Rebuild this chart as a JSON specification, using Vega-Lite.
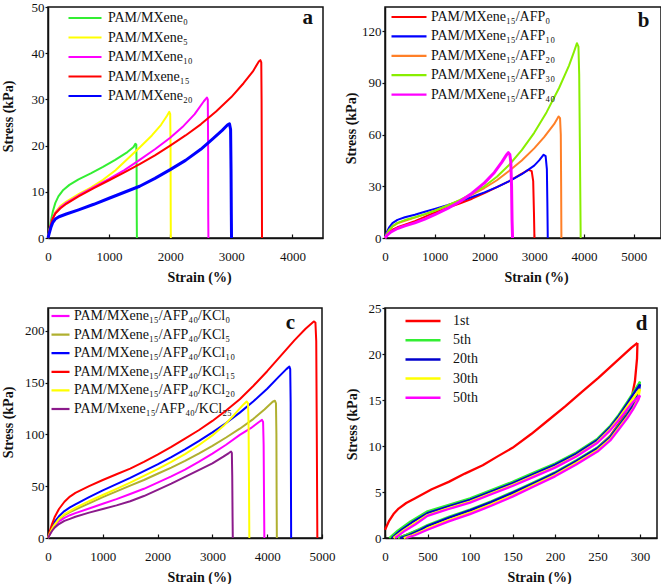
{
"$schema": "https://vega.github.io/schema/vega-lite/v6.json",
"background": "white",
"padding": {"left": 0, "top": 0, "right": 0, "bottom": 0},
"columns": 2,
"spacing": {"row": 70, "column": 62},
"bounds": "flush",
"resolve": {"scale": {"color": "independent", "x": "independent", "y": "independent"}, "legend": {"color": "independent"}},
"config": {
  "font": "Liberation Serif",
  "view": {"stroke": "#111111", "strokeWidth": 1.5},
  "axis": {"labelFont": "Liberation Serif", "labelFontSize": 13, "labelColor": "#111111", "titleFont": "Liberation Serif", "titleFontSize": 14, "titleFontWeight": "bold", "titleColor": "#111111", "grid": false, "domainColor": "#111111", "domainWidth": 1.5, "tickColor": "#111111", "tickWidth": 1.2, "labelFlush": false, "labelOverlap": false, "format": "d"},
  "axisX": {"tickSize": -4, "labelPadding": 16, "labelAngle": 0, "titleBaseline": "middle", "titleY": 39},
  "axisY": {"tickSize": 3, "labelPadding": 1, "titleBaseline": "middle", "titleAngle": -90},
  "legend": {"symbolType": "stroke", "labelFont": "Liberation Serif", "labelFontSize": 14, "labelColor": "#111111", "labelLimit": 400, "padding": 0, "symbolOffset": 0, "orient": "none"}
},
"datasets": {
"a": [
{"s":"PAM/MXene₀","x":0,"y":0},{"s":"PAM/MXene₀","x":20,"y":1.5},{"s":"PAM/MXene₀","x":50,"y":3.8},{"s":"PAM/MXene₀","x":80,"y":5.8},{"s":"PAM/MXene₀","x":120,"y":7.6},{"s":"PAM/MXene₀","x":170,"y":9},{"s":"PAM/MXene₀","x":250,"y":10.4},{"s":"PAM/MXene₀","x":350,"y":11.5},{"s":"PAM/MXene₀","x":500,"y":12.7},{"s":"PAM/MXene₀","x":700,"y":14},{"s":"PAM/MXene₀","x":900,"y":15.4},{"s":"PAM/MXene₀","x":1100,"y":16.9},{"s":"PAM/MXene₀","x":1300,"y":18.6},{"s":"PAM/MXene₀","x":1400,"y":19.7},{"s":"PAM/MXene₀","x":1430,"y":20.4},{"s":"PAM/MXene₀","x":1445,"y":20.2},{"s":"PAM/MXene₀","x":1450,"y":15},{"s":"PAM/MXene₀","x":1452,"y":5},{"s":"PAM/MXene₀","x":1455,"y":0},
{"s":"PAM/MXene₅","x":0,"y":0},{"s":"PAM/MXene₅","x":30,"y":2},{"s":"PAM/MXene₅","x":70,"y":4},{"s":"PAM/MXene₅","x":120,"y":5.6},{"s":"PAM/MXene₅","x":200,"y":6.9},{"s":"PAM/MXene₅","x":300,"y":7.9},{"s":"PAM/MXene₅","x":500,"y":9.5},{"s":"PAM/MXene₅","x":700,"y":10.9},{"s":"PAM/MXene₅","x":900,"y":12.6},{"s":"PAM/MXene₅","x":1100,"y":14.6},{"s":"PAM/MXene₅","x":1300,"y":17.1},{"s":"PAM/MXene₅","x":1500,"y":19.6},{"s":"PAM/MXene₅","x":1700,"y":22.2},{"s":"PAM/MXene₅","x":1850,"y":24.5},{"s":"PAM/MXene₅","x":1950,"y":26.5},{"s":"PAM/MXene₅","x":1985,"y":27.3},{"s":"PAM/MXene₅","x":2000,"y":26.8},{"s":"PAM/MXene₅","x":2005,"y":20},{"s":"PAM/MXene₅","x":2008,"y":5},{"s":"PAM/MXene₅","x":2010,"y":0},
{"s":"PAM/MXene₁₀","x":0,"y":0},{"s":"PAM/MXene₁₀","x":30,"y":2},{"s":"PAM/MXene₁₀","x":70,"y":4},{"s":"PAM/MXene₁₀","x":120,"y":5.4},{"s":"PAM/MXene₁₀","x":200,"y":6.6},{"s":"PAM/MXene₁₀","x":300,"y":7.6},{"s":"PAM/MXene₁₀","x":500,"y":9.2},{"s":"PAM/MXene₁₀","x":750,"y":11},{"s":"PAM/MXene₁₀","x":1000,"y":12.8},{"s":"PAM/MXene₁₀","x":1250,"y":14.7},{"s":"PAM/MXene₁₀","x":1500,"y":16.9},{"s":"PAM/MXene₁₀","x":1750,"y":19.2},{"s":"PAM/MXene₁₀","x":2000,"y":21.7},{"s":"PAM/MXene₁₀","x":2200,"y":24},{"s":"PAM/MXene₁₀","x":2400,"y":26.8},{"s":"PAM/MXene₁₀","x":2550,"y":29.6},{"s":"PAM/MXene₁₀","x":2600,"y":30.4},{"s":"PAM/MXene₁₀","x":2615,"y":30},{"s":"PAM/MXene₁₀","x":2620,"y":20},{"s":"PAM/MXene₁₀","x":2622,"y":5},{"s":"PAM/MXene₁₀","x":2625,"y":0},
{"s":"PAM/Mxene₁₅","x":0,"y":0},{"s":"PAM/Mxene₁₅","x":30,"y":2},{"s":"PAM/Mxene₁₅","x":70,"y":4},{"s":"PAM/Mxene₁₅","x":120,"y":5.3},{"s":"PAM/Mxene₁₅","x":200,"y":6.4},{"s":"PAM/Mxene₁₅","x":300,"y":7.4},{"s":"PAM/Mxene₁₅","x":500,"y":9},{"s":"PAM/Mxene₁₅","x":750,"y":10.8},{"s":"PAM/Mxene₁₅","x":1000,"y":12.5},{"s":"PAM/Mxene₁₅","x":1250,"y":14.2},{"s":"PAM/Mxene₁₅","x":1500,"y":16},{"s":"PAM/Mxene₁₅","x":1750,"y":17.9},{"s":"PAM/Mxene₁₅","x":2000,"y":20},{"s":"PAM/Mxene₁₅","x":2250,"y":22.2},{"s":"PAM/Mxene₁₅","x":2500,"y":24.6},{"s":"PAM/Mxene₁₅","x":2750,"y":27.4},{"s":"PAM/Mxene₁₅","x":3000,"y":30.5},{"s":"PAM/Mxene₁₅","x":3200,"y":33.5},{"s":"PAM/Mxene₁₅","x":3350,"y":36},{"s":"PAM/Mxene₁₅","x":3450,"y":38.2},{"s":"PAM/Mxene₁₅","x":3475,"y":38.5},{"s":"PAM/Mxene₁₅","x":3490,"y":38},{"s":"PAM/Mxene₁₅","x":3495,"y":30},{"s":"PAM/Mxene₁₅","x":3500,"y":10},{"s":"PAM/Mxene₁₅","x":3502,"y":0},
{"s":"PAM/MXene₂₀","x":0,"y":0},{"s":"PAM/MXene₂₀","x":20,"y":1},{"s":"PAM/MXene₂₀","x":50,"y":2.4},{"s":"PAM/MXene₂₀","x":80,"y":3.4},{"s":"PAM/MXene₂₀","x":120,"y":4.1},{"s":"PAM/MXene₂₀","x":180,"y":4.6},{"s":"PAM/MXene₂₀","x":300,"y":5.2},{"s":"PAM/MXene₂₀","x":500,"y":6.1},{"s":"PAM/MXene₂₀","x":750,"y":7.3},{"s":"PAM/MXene₂₀","x":1000,"y":8.6},{"s":"PAM/MXene₂₀","x":1250,"y":9.9},{"s":"PAM/MXene₂₀","x":1500,"y":11.2},{"s":"PAM/MXene₂₀","x":1750,"y":12.9},{"s":"PAM/MXene₂₀","x":2000,"y":14.8},{"s":"PAM/MXene₂₀","x":2250,"y":16.8},{"s":"PAM/MXene₂₀","x":2500,"y":19.2},{"s":"PAM/MXene₂₀","x":2700,"y":21.5},{"s":"PAM/MXene₂₀","x":2850,"y":23.3},{"s":"PAM/MXene₂₀","x":2940,"y":24.5},{"s":"PAM/MXene₂₀","x":2970,"y":24.7},{"s":"PAM/MXene₂₀","x":2988,"y":23.5},{"s":"PAM/MXene₂₀","x":2995,"y":15},{"s":"PAM/MXene₂₀","x":3000,"y":5},{"s":"PAM/MXene₂₀","x":3003,"y":0}
],
"b": [
{"s":"PAM/MXene₁₅/AFP₀","x":0,"y":0},{"s":"PAM/MXene₁₅/AFP₀","x":30,"y":1.5},{"s":"PAM/MXene₁₅/AFP₀","x":80,"y":3.2},{"s":"PAM/MXene₁₅/AFP₀","x":150,"y":4.8},{"s":"PAM/MXene₁₅/AFP₀","x":250,"y":6.2},{"s":"PAM/MXene₁₅/AFP₀","x":400,"y":7.7},{"s":"PAM/MXene₁₅/AFP₀","x":600,"y":9.8},{"s":"PAM/MXene₁₅/AFP₀","x":800,"y":12.3},{"s":"PAM/MXene₁₅/AFP₀","x":1000,"y":14.8},{"s":"PAM/MXene₁₅/AFP₀","x":1250,"y":17.5},{"s":"PAM/MXene₁₅/AFP₀","x":1500,"y":20},{"s":"PAM/MXene₁₅/AFP₀","x":1750,"y":22.8},{"s":"PAM/MXene₁₅/AFP₀","x":2000,"y":26},{"s":"PAM/MXene₁₅/AFP₀","x":2250,"y":29.5},{"s":"PAM/MXene₁₅/AFP₀","x":2500,"y":33},{"s":"PAM/MXene₁₅/AFP₀","x":2700,"y":36.5},{"s":"PAM/MXene₁₅/AFP₀","x":2850,"y":39},{"s":"PAM/MXene₁₅/AFP₀","x":2890,"y":39.5},{"s":"PAM/MXene₁₅/AFP₀","x":2950,"y":38.8},{"s":"PAM/MXene₁₅/AFP₀","x":2980,"y":33},{"s":"PAM/MXene₁₅/AFP₀","x":2995,"y":15},{"s":"PAM/MXene₁₅/AFP₀","x":3005,"y":0},
{"s":"PAM/MXene₁₅/AFP₁₀","x":0,"y":0},{"s":"PAM/MXene₁₅/AFP₁₀","x":30,"y":3},{"s":"PAM/MXene₁₅/AFP₁₀","x":80,"y":6},{"s":"PAM/MXene₁₅/AFP₁₀","x":150,"y":8.6},{"s":"PAM/MXene₁₅/AFP₁₀","x":250,"y":10.5},{"s":"PAM/MXene₁₅/AFP₁₀","x":400,"y":12},{"s":"PAM/MXene₁₅/AFP₁₀","x":600,"y":13.5},{"s":"PAM/MXene₁₅/AFP₁₀","x":800,"y":15.2},{"s":"PAM/MXene₁₅/AFP₁₀","x":1000,"y":16.9},{"s":"PAM/MXene₁₅/AFP₁₀","x":1250,"y":19},{"s":"PAM/MXene₁₅/AFP₁₀","x":1500,"y":21.3},{"s":"PAM/MXene₁₅/AFP₁₀","x":1750,"y":23.8},{"s":"PAM/MXene₁₅/AFP₁₀","x":2000,"y":26.5},{"s":"PAM/MXene₁₅/AFP₁₀","x":2250,"y":29.5},{"s":"PAM/MXene₁₅/AFP₁₀","x":2500,"y":33},{"s":"PAM/MXene₁₅/AFP₁₀","x":2750,"y":37},{"s":"PAM/MXene₁₅/AFP₁₀","x":3000,"y":42},{"s":"PAM/MXene₁₅/AFP₁₀","x":3100,"y":45},{"s":"PAM/MXene₁₅/AFP₁₀","x":3190,"y":48.3},{"s":"PAM/MXene₁₅/AFP₁₀","x":3230,"y":47.5},{"s":"PAM/MXene₁₅/AFP₁₀","x":3255,"y":40},{"s":"PAM/MXene₁₅/AFP₁₀","x":3265,"y":20},{"s":"PAM/MXene₁₅/AFP₁₀","x":3273,"y":0},
{"s":"PAM/MXene₁₅/AFP₂₀","x":0,"y":0},{"s":"PAM/MXene₁₅/AFP₂₀","x":30,"y":2},{"s":"PAM/MXene₁₅/AFP₂₀","x":80,"y":4.5},{"s":"PAM/MXene₁₅/AFP₂₀","x":150,"y":6.7},{"s":"PAM/MXene₁₅/AFP₂₀","x":250,"y":8.5},{"s":"PAM/MXene₁₅/AFP₂₀","x":400,"y":10},{"s":"PAM/MXene₁₅/AFP₂₀","x":600,"y":11.8},{"s":"PAM/MXene₁₅/AFP₂₀","x":800,"y":13.7},{"s":"PAM/MXene₁₅/AFP₂₀","x":1000,"y":15.8},{"s":"PAM/MXene₁₅/AFP₂₀","x":1250,"y":18.7},{"s":"PAM/MXene₁₅/AFP₂₀","x":1500,"y":21.8},{"s":"PAM/MXene₁₅/AFP₂₀","x":1750,"y":25.2},{"s":"PAM/MXene₁₅/AFP₂₀","x":2000,"y":29},{"s":"PAM/MXene₁₅/AFP₂₀","x":2250,"y":33.5},{"s":"PAM/MXene₁₅/AFP₂₀","x":2500,"y":39},{"s":"PAM/MXene₁₅/AFP₂₀","x":2750,"y":45},{"s":"PAM/MXene₁₅/AFP₂₀","x":3000,"y":52},{"s":"PAM/MXene₁₅/AFP₂₀","x":3200,"y":58.5},{"s":"PAM/MXene₁₅/AFP₂₀","x":3400,"y":66},{"s":"PAM/MXene₁₅/AFP₂₀","x":3490,"y":70.5},{"s":"PAM/MXene₁₅/AFP₂₀","x":3520,"y":69.5},{"s":"PAM/MXene₁₅/AFP₂₀","x":3535,"y":60},{"s":"PAM/MXene₁₅/AFP₂₀","x":3542,"y":30},{"s":"PAM/MXene₁₅/AFP₂₀","x":3547,"y":0},
{"s":"PAM/MXene₁₅/AFP₃₀","x":0,"y":0},{"s":"PAM/MXene₁₅/AFP₃₀","x":30,"y":2},{"s":"PAM/MXene₁₅/AFP₃₀","x":80,"y":4.5},{"s":"PAM/MXene₁₅/AFP₃₀","x":150,"y":6.8},{"s":"PAM/MXene₁₅/AFP₃₀","x":250,"y":8.8},{"s":"PAM/MXene₁₅/AFP₃₀","x":400,"y":10.4},{"s":"PAM/MXene₁₅/AFP₃₀","x":600,"y":12},{"s":"PAM/MXene₁₅/AFP₃₀","x":800,"y":13.8},{"s":"PAM/MXene₁₅/AFP₃₀","x":1000,"y":15.8},{"s":"PAM/MXene₁₅/AFP₃₀","x":1250,"y":18.7},{"s":"PAM/MXene₁₅/AFP₃₀","x":1500,"y":22},{"s":"PAM/MXene₁₅/AFP₃₀","x":1750,"y":25.7},{"s":"PAM/MXene₁₅/AFP₃₀","x":2000,"y":30},{"s":"PAM/MXene₁₅/AFP₃₀","x":2250,"y":35.5},{"s":"PAM/MXene₁₅/AFP₃₀","x":2500,"y":42.5},{"s":"PAM/MXene₁₅/AFP₃₀","x":2750,"y":51},{"s":"PAM/MXene₁₅/AFP₃₀","x":3000,"y":61},{"s":"PAM/MXene₁₅/AFP₃₀","x":3250,"y":73},{"s":"PAM/MXene₁₅/AFP₃₀","x":3500,"y":87},{"s":"PAM/MXene₁₅/AFP₃₀","x":3700,"y":100},{"s":"PAM/MXene₁₅/AFP₃₀","x":3800,"y":108},{"s":"PAM/MXene₁₅/AFP₃₀","x":3860,"y":113},{"s":"PAM/MXene₁₅/AFP₃₀","x":3890,"y":111},{"s":"PAM/MXene₁₅/AFP₃₀","x":3905,"y":95},{"s":"PAM/MXene₁₅/AFP₃₀","x":3920,"y":50},{"s":"PAM/MXene₁₅/AFP₃₀","x":3935,"y":0},
{"s":"PAM/MXene₁₅/AFP₄₀","x":0,"y":0},{"s":"PAM/MXene₁₅/AFP₄₀","x":50,"y":1.8},{"s":"PAM/MXene₁₅/AFP₄₀","x":120,"y":3.5},{"s":"PAM/MXene₁₅/AFP₄₀","x":250,"y":5.5},{"s":"PAM/MXene₁₅/AFP₄₀","x":400,"y":7},{"s":"PAM/MXene₁₅/AFP₄₀","x":600,"y":8.8},{"s":"PAM/MXene₁₅/AFP₄₀","x":800,"y":11},{"s":"PAM/MXene₁₅/AFP₄₀","x":1000,"y":13.5},{"s":"PAM/MXene₁₅/AFP₄₀","x":1250,"y":17},{"s":"PAM/MXene₁₅/AFP₄₀","x":1500,"y":21},{"s":"PAM/MXene₁₅/AFP₄₀","x":1750,"y":26},{"s":"PAM/MXene₁₅/AFP₄₀","x":2000,"y":32},{"s":"PAM/MXene₁₅/AFP₄₀","x":2200,"y":38},{"s":"PAM/MXene₁₅/AFP₄₀","x":2350,"y":44},{"s":"PAM/MXene₁₅/AFP₄₀","x":2450,"y":48.5},{"s":"PAM/MXene₁₅/AFP₄₀","x":2480,"y":49.5},{"s":"PAM/MXene₁₅/AFP₄₀","x":2510,"y":48.5},{"s":"PAM/MXene₁₅/AFP₄₀","x":2530,"y":44},{"s":"PAM/MXene₁₅/AFP₄₀","x":2545,"y":30},{"s":"PAM/MXene₁₅/AFP₄₀","x":2555,"y":10},{"s":"PAM/MXene₁₅/AFP₄₀","x":2565,"y":0}
],
"c": [
{"s":"PAM/MXene₁₅/AFP₄₀/KCl₀","x":0,"y":0},{"s":"PAM/MXene₁₅/AFP₄₀/KCl₀","x":30,"y":3.5},{"s":"PAM/MXene₁₅/AFP₄₀/KCl₀","x":70,"y":7.5},{"s":"PAM/MXene₁₅/AFP₄₀/KCl₀","x":120,"y":11.5},{"s":"PAM/MXene₁₅/AFP₄₀/KCl₀","x":200,"y":16},{"s":"PAM/MXene₁₅/AFP₄₀/KCl₀","x":300,"y":19.5},{"s":"PAM/MXene₁₅/AFP₄₀/KCl₀","x":400,"y":22},{"s":"PAM/MXene₁₅/AFP₄₀/KCl₀","x":500,"y":24},{"s":"PAM/MXene₁₅/AFP₄₀/KCl₀","x":750,"y":28.5},{"s":"PAM/MXene₁₅/AFP₄₀/KCl₀","x":1000,"y":33},{"s":"PAM/MXene₁₅/AFP₄₀/KCl₀","x":1250,"y":37.5},{"s":"PAM/MXene₁₅/AFP₄₀/KCl₀","x":1500,"y":42.5},{"s":"PAM/MXene₁₅/AFP₄₀/KCl₀","x":1750,"y":47.5},{"s":"PAM/MXene₁₅/AFP₄₀/KCl₀","x":2000,"y":53.5},{"s":"PAM/MXene₁₅/AFP₄₀/KCl₀","x":2250,"y":59.5},{"s":"PAM/MXene₁₅/AFP₄₀/KCl₀","x":2500,"y":66},{"s":"PAM/MXene₁₅/AFP₄₀/KCl₀","x":2750,"y":73.5},{"s":"PAM/MXene₁₅/AFP₄₀/KCl₀","x":3000,"y":81.5},{"s":"PAM/MXene₁₅/AFP₄₀/KCl₀","x":3250,"y":90},{"s":"PAM/MXene₁₅/AFP₄₀/KCl₀","x":3500,"y":99.5},{"s":"PAM/MXene₁₅/AFP₄₀/KCl₀","x":3700,"y":106},{"s":"PAM/MXene₁₅/AFP₄₀/KCl₀","x":3850,"y":112},{"s":"PAM/MXene₁₅/AFP₄₀/KCl₀","x":3905,"y":114},{"s":"PAM/MXene₁₅/AFP₄₀/KCl₀","x":3925,"y":112},{"s":"PAM/MXene₁₅/AFP₄₀/KCl₀","x":3935,"y":90},{"s":"PAM/MXene₁₅/AFP₄₀/KCl₀","x":3942,"y":40},{"s":"PAM/MXene₁₅/AFP₄₀/KCl₀","x":3948,"y":0},
{"s":"PAM/MXene₁₅/AFP₄₀/KCl₅","x":0,"y":0},{"s":"PAM/MXene₁₅/AFP₄₀/KCl₅","x":30,"y":4},{"s":"PAM/MXene₁₅/AFP₄₀/KCl₅","x":70,"y":8.5},{"s":"PAM/MXene₁₅/AFP₄₀/KCl₅","x":120,"y":13},{"s":"PAM/MXene₁₅/AFP₄₀/KCl₅","x":200,"y":18},{"s":"PAM/MXene₁₅/AFP₄₀/KCl₅","x":300,"y":22},{"s":"PAM/MXene₁₅/AFP₄₀/KCl₅","x":400,"y":25},{"s":"PAM/MXene₁₅/AFP₄₀/KCl₅","x":500,"y":27.5},{"s":"PAM/MXene₁₅/AFP₄₀/KCl₅","x":750,"y":33.5},{"s":"PAM/MXene₁₅/AFP₄₀/KCl₅","x":1000,"y":39.5},{"s":"PAM/MXene₁₅/AFP₄₀/KCl₅","x":1250,"y":45},{"s":"PAM/MXene₁₅/AFP₄₀/KCl₅","x":1500,"y":50.5},{"s":"PAM/MXene₁₅/AFP₄₀/KCl₅","x":1750,"y":56},{"s":"PAM/MXene₁₅/AFP₄₀/KCl₅","x":2000,"y":62},{"s":"PAM/MXene₁₅/AFP₄₀/KCl₅","x":2250,"y":68},{"s":"PAM/MXene₁₅/AFP₄₀/KCl₅","x":2500,"y":74.5},{"s":"PAM/MXene₁₅/AFP₄₀/KCl₅","x":2750,"y":81.5},{"s":"PAM/MXene₁₅/AFP₄₀/KCl₅","x":3000,"y":89},{"s":"PAM/MXene₁₅/AFP₄₀/KCl₅","x":3250,"y":97},{"s":"PAM/MXene₁₅/AFP₄₀/KCl₅","x":3500,"y":105.5},{"s":"PAM/MXene₁₅/AFP₄₀/KCl₅","x":3750,"y":115},{"s":"PAM/MXene₁₅/AFP₄₀/KCl₅","x":3950,"y":124},{"s":"PAM/MXene₁₅/AFP₄₀/KCl₅","x":4100,"y":131.5},{"s":"PAM/MXene₁₅/AFP₄₀/KCl₅","x":4140,"y":132.5},{"s":"PAM/MXene₁₅/AFP₄₀/KCl₅","x":4160,"y":130},{"s":"PAM/MXene₁₅/AFP₄₀/KCl₅","x":4168,"y":100},{"s":"PAM/MXene₁₅/AFP₄₀/KCl₅","x":4172,"y":40},{"s":"PAM/MXene₁₅/AFP₄₀/KCl₅","x":4176,"y":0},
{"s":"PAM/MXene₁₅/AFP₄₀/KCl₁₀","x":0,"y":0},{"s":"PAM/MXene₁₅/AFP₄₀/KCl₁₀","x":30,"y":4.5},{"s":"PAM/MXene₁₅/AFP₄₀/KCl₁₀","x":70,"y":10},{"s":"PAM/MXene₁₅/AFP₄₀/KCl₁₀","x":120,"y":15.5},{"s":"PAM/MXene₁₅/AFP₄₀/KCl₁₀","x":200,"y":21},{"s":"PAM/MXene₁₅/AFP₄₀/KCl₁₀","x":300,"y":26},{"s":"PAM/MXene₁₅/AFP₄₀/KCl₁₀","x":400,"y":29.5},{"s":"PAM/MXene₁₅/AFP₄₀/KCl₁₀","x":500,"y":32.5},{"s":"PAM/MXene₁₅/AFP₄₀/KCl₁₀","x":750,"y":39.5},{"s":"PAM/MXene₁₅/AFP₄₀/KCl₁₀","x":1000,"y":46},{"s":"PAM/MXene₁₅/AFP₄₀/KCl₁₀","x":1250,"y":52},{"s":"PAM/MXene₁₅/AFP₄₀/KCl₁₀","x":1500,"y":58},{"s":"PAM/MXene₁₅/AFP₄₀/KCl₁₀","x":1750,"y":64.5},{"s":"PAM/MXene₁₅/AFP₄₀/KCl₁₀","x":2000,"y":71},{"s":"PAM/MXene₁₅/AFP₄₀/KCl₁₀","x":2250,"y":78},{"s":"PAM/MXene₁₅/AFP₄₀/KCl₁₀","x":2500,"y":85.5},{"s":"PAM/MXene₁₅/AFP₄₀/KCl₁₀","x":2750,"y":93.5},{"s":"PAM/MXene₁₅/AFP₄₀/KCl₁₀","x":3000,"y":102},{"s":"PAM/MXene₁₅/AFP₄₀/KCl₁₀","x":3250,"y":111},{"s":"PAM/MXene₁₅/AFP₄₀/KCl₁₀","x":3500,"y":121},{"s":"PAM/MXene₁₅/AFP₄₀/KCl₁₀","x":3750,"y":132},{"s":"PAM/MXene₁₅/AFP₄₀/KCl₁₀","x":4000,"y":144},{"s":"PAM/MXene₁₅/AFP₄₀/KCl₁₀","x":4200,"y":155},{"s":"PAM/MXene₁₅/AFP₄₀/KCl₁₀","x":4350,"y":163},{"s":"PAM/MXene₁₅/AFP₄₀/KCl₁₀","x":4405,"y":165.5},{"s":"PAM/MXene₁₅/AFP₄₀/KCl₁₀","x":4420,"y":163},{"s":"PAM/MXene₁₅/AFP₄₀/KCl₁₀","x":4428,"y":130},{"s":"PAM/MXene₁₅/AFP₄₀/KCl₁₀","x":4433,"y":60},{"s":"PAM/MXene₁₅/AFP₄₀/KCl₁₀","x":4437,"y":0},
{"s":"PAM/MXene₁₅/AFP₄₀/KCl₁₅","x":0,"y":0},{"s":"PAM/MXene₁₅/AFP₄₀/KCl₁₅","x":30,"y":6},{"s":"PAM/MXene₁₅/AFP₄₀/KCl₁₅","x":70,"y":13},{"s":"PAM/MXene₁₅/AFP₄₀/KCl₁₅","x":120,"y":20},{"s":"PAM/MXene₁₅/AFP₄₀/KCl₁₅","x":200,"y":28},{"s":"PAM/MXene₁₅/AFP₄₀/KCl₁₅","x":300,"y":35},{"s":"PAM/MXene₁₅/AFP₄₀/KCl₁₅","x":400,"y":40},{"s":"PAM/MXene₁₅/AFP₄₀/KCl₁₅","x":500,"y":43.5},{"s":"PAM/MXene₁₅/AFP₄₀/KCl₁₅","x":750,"y":50},{"s":"PAM/MXene₁₅/AFP₄₀/KCl₁₅","x":1000,"y":56},{"s":"PAM/MXene₁₅/AFP₄₀/KCl₁₅","x":1250,"y":61.5},{"s":"PAM/MXene₁₅/AFP₄₀/KCl₁₅","x":1500,"y":67},{"s":"PAM/MXene₁₅/AFP₄₀/KCl₁₅","x":1750,"y":73.5},{"s":"PAM/MXene₁₅/AFP₄₀/KCl₁₅","x":2000,"y":80.5},{"s":"PAM/MXene₁₅/AFP₄₀/KCl₁₅","x":2250,"y":88},{"s":"PAM/MXene₁₅/AFP₄₀/KCl₁₅","x":2500,"y":96},{"s":"PAM/MXene₁₅/AFP₄₀/KCl₁₅","x":2750,"y":104},{"s":"PAM/MXene₁₅/AFP₄₀/KCl₁₅","x":3000,"y":113},{"s":"PAM/MXene₁₅/AFP₄₀/KCl₁₅","x":3250,"y":123},{"s":"PAM/MXene₁₅/AFP₄₀/KCl₁₅","x":3500,"y":134},{"s":"PAM/MXene₁₅/AFP₄₀/KCl₁₅","x":3750,"y":147},{"s":"PAM/MXene₁₅/AFP₄₀/KCl₁₅","x":4000,"y":161},{"s":"PAM/MXene₁₅/AFP₄₀/KCl₁₅","x":4250,"y":176},{"s":"PAM/MXene₁₅/AFP₄₀/KCl₁₅","x":4500,"y":191},{"s":"PAM/MXene₁₅/AFP₄₀/KCl₁₅","x":4700,"y":202},{"s":"PAM/MXene₁₅/AFP₄₀/KCl₁₅","x":4850,"y":209},{"s":"PAM/MXene₁₅/AFP₄₀/KCl₁₅","x":4880,"y":208},{"s":"PAM/MXene₁₅/AFP₄₀/KCl₁₅","x":4895,"y":190},{"s":"PAM/MXene₁₅/AFP₄₀/KCl₁₅","x":4905,"y":100},{"s":"PAM/MXene₁₅/AFP₄₀/KCl₁₅","x":4915,"y":0},
{"s":"PAM/MXene₁₅/AFP₄₀/KCl₂₀","x":0,"y":0},{"s":"PAM/MXene₁₅/AFP₄₀/KCl₂₀","x":30,"y":4},{"s":"PAM/MXene₁₅/AFP₄₀/KCl₂₀","x":70,"y":8.5},{"s":"PAM/MXene₁₅/AFP₄₀/KCl₂₀","x":120,"y":13},{"s":"PAM/MXene₁₅/AFP₄₀/KCl₂₀","x":200,"y":18.5},{"s":"PAM/MXene₁₅/AFP₄₀/KCl₂₀","x":300,"y":23},{"s":"PAM/MXene₁₅/AFP₄₀/KCl₂₀","x":400,"y":26},{"s":"PAM/MXene₁₅/AFP₄₀/KCl₂₀","x":500,"y":29},{"s":"PAM/MXene₁₅/AFP₄₀/KCl₂₀","x":750,"y":35.5},{"s":"PAM/MXene₁₅/AFP₄₀/KCl₂₀","x":1000,"y":41.5},{"s":"PAM/MXene₁₅/AFP₄₀/KCl₂₀","x":1250,"y":47.5},{"s":"PAM/MXene₁₅/AFP₄₀/KCl₂₀","x":1500,"y":53.5},{"s":"PAM/MXene₁₅/AFP₄₀/KCl₂₀","x":1750,"y":60},{"s":"PAM/MXene₁₅/AFP₄₀/KCl₂₀","x":2000,"y":66.5},{"s":"PAM/MXene₁₅/AFP₄₀/KCl₂₀","x":2250,"y":73.5},{"s":"PAM/MXene₁₅/AFP₄₀/KCl₂₀","x":2500,"y":81},{"s":"PAM/MXene₁₅/AFP₄₀/KCl₂₀","x":2750,"y":89.5},{"s":"PAM/MXene₁₅/AFP₄₀/KCl₂₀","x":3000,"y":99},{"s":"PAM/MXene₁₅/AFP₄₀/KCl₂₀","x":3200,"y":108},{"s":"PAM/MXene₁₅/AFP₄₀/KCl₂₀","x":3400,"y":119},{"s":"PAM/MXene₁₅/AFP₄₀/KCl₂₀","x":3550,"y":128},{"s":"PAM/MXene₁₅/AFP₄₀/KCl₂₀","x":3625,"y":131.8},{"s":"PAM/MXene₁₅/AFP₄₀/KCl₂₀","x":3650,"y":130},{"s":"PAM/MXene₁₅/AFP₄₀/KCl₂₀","x":3660,"y":110},{"s":"PAM/MXene₁₅/AFP₄₀/KCl₂₀","x":3668,"y":50},{"s":"PAM/MXene₁₅/AFP₄₀/KCl₂₀","x":3674,"y":0},
{"s":"PAM/Mxene₁₅/AFP₄₀/KCl₂₅","x":0,"y":0},{"s":"PAM/Mxene₁₅/AFP₄₀/KCl₂₅","x":30,"y":3},{"s":"PAM/Mxene₁₅/AFP₄₀/KCl₂₅","x":70,"y":6.5},{"s":"PAM/Mxene₁₅/AFP₄₀/KCl₂₅","x":120,"y":10},{"s":"PAM/Mxene₁₅/AFP₄₀/KCl₂₅","x":200,"y":13.5},{"s":"PAM/Mxene₁₅/AFP₄₀/KCl₂₅","x":300,"y":16.5},{"s":"PAM/Mxene₁₅/AFP₄₀/KCl₂₅","x":400,"y":18.5},{"s":"PAM/Mxene₁₅/AFP₄₀/KCl₂₅","x":500,"y":20.5},{"s":"PAM/Mxene₁₅/AFP₄₀/KCl₂₅","x":750,"y":24.5},{"s":"PAM/Mxene₁₅/AFP₄₀/KCl₂₅","x":1000,"y":28},{"s":"PAM/Mxene₁₅/AFP₄₀/KCl₂₅","x":1250,"y":31.5},{"s":"PAM/Mxene₁₅/AFP₄₀/KCl₂₅","x":1500,"y":35.5},{"s":"PAM/Mxene₁₅/AFP₄₀/KCl₂₅","x":1750,"y":40.5},{"s":"PAM/Mxene₁₅/AFP₄₀/KCl₂₅","x":2000,"y":46.5},{"s":"PAM/Mxene₁₅/AFP₄₀/KCl₂₅","x":2250,"y":52.5},{"s":"PAM/Mxene₁₅/AFP₄₀/KCl₂₅","x":2500,"y":59},{"s":"PAM/Mxene₁₅/AFP₄₀/KCl₂₅","x":2750,"y":65.5},{"s":"PAM/Mxene₁₅/AFP₄₀/KCl₂₅","x":3000,"y":72},{"s":"PAM/Mxene₁₅/AFP₄₀/KCl₂₅","x":3200,"y":78.5},{"s":"PAM/Mxene₁₅/AFP₄₀/KCl₂₅","x":3300,"y":82},{"s":"PAM/Mxene₁₅/AFP₄₀/KCl₂₅","x":3340,"y":83.5},{"s":"PAM/Mxene₁₅/AFP₄₀/KCl₂₅","x":3355,"y":82},{"s":"PAM/Mxene₁₅/AFP₄₀/KCl₂₅","x":3362,"y":60},{"s":"PAM/Mxene₁₅/AFP₄₀/KCl₂₅","x":3368,"y":20},{"s":"PAM/Mxene₁₅/AFP₄₀/KCl₂₅","x":3372,"y":0}
],
"d": [
{"s":"1st","p":"L","x":0,"y":0.9},{"s":"1st","p":"L","x":5,"y":1.9},{"s":"1st","p":"L","x":10,"y":2.6},{"s":"1st","p":"L","x":16,"y":3.2},{"s":"1st","p":"L","x":25,"y":3.8},{"s":"1st","p":"L","x":35,"y":4.3},{"s":"1st","p":"L","x":55,"y":5.3},{"s":"1st","p":"L","x":75,"y":6.1},{"s":"1st","p":"L","x":94,"y":7},{"s":"1st","p":"L","x":115,"y":7.9},{"s":"1st","p":"L","x":133,"y":8.9},{"s":"1st","p":"L","x":150,"y":9.8},{"s":"1st","p":"L","x":172,"y":11.3},{"s":"1st","p":"L","x":192,"y":12.8},{"s":"1st","p":"L","x":212,"y":14.3},{"s":"1st","p":"L","x":232,"y":15.9},{"s":"1st","p":"L","x":251,"y":17.4},{"s":"1st","p":"L","x":270,"y":19},{"s":"1st","p":"L","x":290,"y":20.7},{"s":"1st","p":"L","x":297,"y":21.2},
{"s":"1st","p":"U","x":15,"y":0},{"s":"1st","p":"U","x":30,"y":0.5},{"s":"1st","p":"U","x":50,"y":1.3},{"s":"1st","p":"U","x":75,"y":2.2},{"s":"1st","p":"U","x":100,"y":3},{"s":"1st","p":"U","x":125,"y":3.9},{"s":"1st","p":"U","x":150,"y":4.9},{"s":"1st","p":"U","x":175,"y":5.95},{"s":"1st","p":"U","x":200,"y":7.05},{"s":"1st","p":"U","x":225,"y":8.35},{"s":"1st","p":"U","x":250,"y":9.8},{"s":"1st","p":"U","x":265,"y":11.1},{"s":"1st","p":"U","x":278,"y":12.8},{"s":"1st","p":"U","x":285,"y":14},{"s":"1st","p":"U","x":290,"y":15.2},{"s":"1st","p":"U","x":294,"y":17},{"s":"1st","p":"U","x":296.5,"y":19.5},{"s":"1st","p":"U","x":297,"y":21.2},
{"s":"5th","p":"L","x":5,"y":0},{"s":"5th","p":"L","x":15,"y":0.8},{"s":"5th","p":"L","x":30,"y":1.8},{"s":"5th","p":"L","x":50,"y":2.9},{"s":"5th","p":"L","x":75,"y":3.6},{"s":"5th","p":"L","x":100,"y":4.3},{"s":"5th","p":"L","x":125,"y":5.2},{"s":"5th","p":"L","x":150,"y":6.1},{"s":"5th","p":"L","x":175,"y":7.1},{"s":"5th","p":"L","x":200,"y":8.1},{"s":"5th","p":"L","x":225,"y":9.3},{"s":"5th","p":"L","x":250,"y":10.8},{"s":"5th","p":"L","x":265,"y":12.2},{"s":"5th","p":"L","x":275,"y":13.4},{"s":"5th","p":"L","x":285,"y":14.8},{"s":"5th","p":"L","x":292,"y":15.8},{"s":"5th","p":"L","x":300,"y":17},
{"s":"5th","p":"U","x":15,"y":0},{"s":"5th","p":"U","x":25,"y":0.35},{"s":"5th","p":"U","x":40,"y":0.95},{"s":"5th","p":"U","x":50,"y":1.4},{"s":"5th","p":"U","x":75,"y":2.3},{"s":"5th","p":"U","x":100,"y":3.1},{"s":"5th","p":"U","x":125,"y":4},{"s":"5th","p":"U","x":150,"y":5},{"s":"5th","p":"U","x":175,"y":6.05},{"s":"5th","p":"U","x":200,"y":7.15},{"s":"5th","p":"U","x":225,"y":8.45},{"s":"5th","p":"U","x":250,"y":9.85},{"s":"5th","p":"U","x":265,"y":11.05},{"s":"5th","p":"U","x":275,"y":12.25},{"s":"5th","p":"U","x":285,"y":13.5},{"s":"5th","p":"U","x":292,"y":14.6},{"s":"5th","p":"U","x":298,"y":15.9},{"s":"5th","p":"U","x":300,"y":17},
{"s":"20th","p":"L","x":8,"y":0},{"s":"20th","p":"L","x":18,"y":0.8},{"s":"20th","p":"L","x":32,"y":1.7},{"s":"20th","p":"L","x":50,"y":2.7},{"s":"20th","p":"L","x":75,"y":3.45},{"s":"20th","p":"L","x":100,"y":4.15},{"s":"20th","p":"L","x":125,"y":5.05},{"s":"20th","p":"L","x":150,"y":5.95},{"s":"20th","p":"L","x":175,"y":6.95},{"s":"20th","p":"L","x":200,"y":7.95},{"s":"20th","p":"L","x":225,"y":9.15},{"s":"20th","p":"L","x":250,"y":10.65},{"s":"20th","p":"L","x":265,"y":12.05},{"s":"20th","p":"L","x":275,"y":13.25},{"s":"20th","p":"L","x":285,"y":14.6},{"s":"20th","p":"L","x":292,"y":15.6},{"s":"20th","p":"L","x":300,"y":16.7},
{"s":"20th","p":"U","x":18,"y":0},{"s":"20th","p":"U","x":28,"y":0.3},{"s":"20th","p":"U","x":42,"y":0.9},{"s":"20th","p":"U","x":50,"y":1.3},{"s":"20th","p":"U","x":75,"y":2.2},{"s":"20th","p":"U","x":100,"y":3},{"s":"20th","p":"U","x":125,"y":3.9},{"s":"20th","p":"U","x":150,"y":4.9},{"s":"20th","p":"U","x":175,"y":5.95},{"s":"20th","p":"U","x":200,"y":7.05},{"s":"20th","p":"U","x":225,"y":8.35},{"s":"20th","p":"U","x":250,"y":9.75},{"s":"20th","p":"U","x":265,"y":10.95},{"s":"20th","p":"U","x":275,"y":12.15},{"s":"20th","p":"U","x":285,"y":13.4},{"s":"20th","p":"U","x":292,"y":14.4},{"s":"20th","p":"U","x":298,"y":15.6},{"s":"20th","p":"U","x":300,"y":16.7},
{"s":"30th","p":"L","x":10,"y":0},{"s":"30th","p":"L","x":20,"y":0.7},{"s":"30th","p":"L","x":35,"y":1.6},{"s":"30th","p":"L","x":50,"y":2.5},{"s":"30th","p":"L","x":75,"y":3.25},{"s":"30th","p":"L","x":100,"y":3.95},{"s":"30th","p":"L","x":125,"y":4.85},{"s":"30th","p":"L","x":150,"y":5.75},{"s":"30th","p":"L","x":175,"y":6.75},{"s":"30th","p":"L","x":200,"y":7.75},{"s":"30th","p":"L","x":225,"y":8.95},{"s":"30th","p":"L","x":250,"y":10.45},{"s":"30th","p":"L","x":265,"y":11.85},{"s":"30th","p":"L","x":275,"y":13},{"s":"30th","p":"L","x":285,"y":14.3},{"s":"30th","p":"L","x":292,"y":15.2},{"s":"30th","p":"L","x":300,"y":16.2},
{"s":"30th","p":"U","x":22,"y":0},{"s":"30th","p":"U","x":32,"y":0.3},{"s":"30th","p":"U","x":45,"y":0.8},{"s":"30th","p":"U","x":50,"y":1.05},{"s":"30th","p":"U","x":75,"y":1.95},{"s":"30th","p":"U","x":100,"y":2.75},{"s":"30th","p":"U","x":125,"y":3.65},{"s":"30th","p":"U","x":150,"y":4.65},{"s":"30th","p":"U","x":175,"y":5.75},{"s":"30th","p":"U","x":200,"y":6.85},{"s":"30th","p":"U","x":225,"y":8.15},{"s":"30th","p":"U","x":250,"y":9.55},{"s":"30th","p":"U","x":265,"y":10.75},{"s":"30th","p":"U","x":275,"y":11.95},{"s":"30th","p":"U","x":285,"y":13.15},{"s":"30th","p":"U","x":292,"y":14.1},{"s":"30th","p":"U","x":298,"y":15.2},{"s":"30th","p":"U","x":300,"y":16.2},
{"s":"50th","p":"L","x":12,"y":0},{"s":"50th","p":"L","x":22,"y":0.7},{"s":"50th","p":"L","x":36,"y":1.5},{"s":"50th","p":"L","x":50,"y":2.4},{"s":"50th","p":"L","x":75,"y":3.15},{"s":"50th","p":"L","x":100,"y":3.85},{"s":"50th","p":"L","x":125,"y":4.75},{"s":"50th","p":"L","x":150,"y":5.65},{"s":"50th","p":"L","x":175,"y":6.65},{"s":"50th","p":"L","x":200,"y":7.65},{"s":"50th","p":"L","x":225,"y":8.85},{"s":"50th","p":"L","x":250,"y":10.35},{"s":"50th","p":"L","x":265,"y":11.7},{"s":"50th","p":"L","x":275,"y":12.8},{"s":"50th","p":"L","x":285,"y":14},{"s":"50th","p":"L","x":292,"y":14.8},{"s":"50th","p":"L","x":300,"y":15.5},
{"s":"50th","p":"U","x":25,"y":0},{"s":"50th","p":"U","x":35,"y":0.3},{"s":"50th","p":"U","x":50,"y":0.9},{"s":"50th","p":"U","x":75,"y":1.8},{"s":"50th","p":"U","x":100,"y":2.6},{"s":"50th","p":"U","x":125,"y":3.5},{"s":"50th","p":"U","x":150,"y":4.5},{"s":"50th","p":"U","x":175,"y":5.6},{"s":"50th","p":"U","x":200,"y":6.7},{"s":"50th","p":"U","x":225,"y":8},{"s":"50th","p":"U","x":250,"y":9.4},{"s":"50th","p":"U","x":265,"y":10.6},{"s":"50th","p":"U","x":275,"y":11.8},{"s":"50th","p":"U","x":285,"y":13},{"s":"50th","p":"U","x":292,"y":14},{"s":"50th","p":"U","x":298,"y":15},{"s":"50th","p":"U","x":300,"y":15.5}
]
},
"concat": [
{
 "width": 275, "height": 231,
 "layer": [
  {"data": {"name": "a"},
   "mark": {"type": "line", "strokeJoin": "round"},
   "encoding": {
    "x": {"field": "x", "type": "quantitative", "scale": {"domain": [0, 4500], "nice": false}, "axis": {"title": "Strain (%)", "values": [0,500,1000,1500,2000,2500,3000,3500,4000,4500], "labelExpr": "datum.value % 1000 === 0 && datum.value < 4500 ? datum.label : ''", "titleX": 151}},
    "y": {"field": "y", "type": "quantitative", "scale": {"domain": [0, 50], "nice": false}, "axis": {"title": "Stress (kPa)", "values": [0,5,10,15,20,25,30,35,40,45,50], "labelExpr": "datum.value % 10 === 0 ? datum.label : ''", "titleX": -39.5, "titleY": 109}},
    "color": {"field": "s", "type": "nominal", "scale": {"domain": ["PAM/MXene₀","PAM/MXene₅","PAM/MXene₁₀","PAM/Mxene₁₅","PAM/MXene₂₀"], "range": ["#33ee33","#ffff00","#ff00ff","#ff0000","#0000ff"]}, "legend": {"title": null, "legendX": 19, "legendY": 4, "symbolSize": 1089, "symbolStrokeWidth": 2.2, "labelOffset": 5, "rowPadding": 5.5, "clipHeight": 14}},
    "strokeWidth": {"condition": {"test": "datum.s === 'PAM/MXene₂₀'", "value": 3}, "value": 2}
   }},
  {"data": {"values": [{}]},
   "mark": {"type": "text", "text": "a", "font": "Liberation Serif", "fontSize": 21, "fontWeight": "bold", "baseline": "middle", "align": "center", "color": "#111111"},
   "encoding": {"x": {"datum": 4250}, "y": {"datum": 47.6}}}
 ]
},
{
 "width": 276, "height": 231,
 "layer": [
  {"data": {"name": "b"},
   "mark": {"type": "line", "strokeJoin": "round"},
   "encoding": {
    "x": {"field": "x", "type": "quantitative", "scale": {"domain": [0, 5550], "nice": false}, "axis": {"title": "Strain (%)", "values": [0,500,1000,1500,2000,2500,3000,3500,4000,4500,5000,5500], "labelExpr": "datum.value % 1000 === 0 ? datum.label : ''", "titleX": 151}},
    "y": {"field": "y", "type": "quantitative", "scale": {"domain": [0, 134], "nice": false}, "axis": {"title": "Stress (kPa)", "values": [0,15,30,45,60,75,90,105,120], "labelExpr": "datum.value % 30 === 0 ? datum.label : ''", "titleX": -34, "titleY": 121}},
    "color": {"field": "s", "type": "nominal", "scale": {"domain": ["PAM/MXene₁₅/AFP₀","PAM/MXene₁₅/AFP₁₀","PAM/MXene₁₅/AFP₂₀","PAM/MXene₁₅/AFP₃₀","PAM/MXene₁₅/AFP₄₀"], "range": ["#ff0000","#0000ff","#ff7f27","#88ee00","#ff00ff"]}, "legend": {"title": null, "legendX": 5, "legendY": 3, "symbolSize": 1225, "symbolStrokeWidth": 2.2, "labelOffset": 3, "rowPadding": 5.4, "clipHeight": 14}},
    "strokeWidth": {"condition": {"test": "datum.s === 'PAM/MXene₁₅/AFP₄₀'", "value": 3}, "value": 2}
   }},
  {"data": {"values": [{}]},
   "mark": {"type": "text", "text": "b", "font": "Liberation Serif", "fontSize": 21, "fontWeight": "bold", "baseline": "middle", "align": "center", "color": "#111111"},
   "encoding": {"x": {"datum": 5200}, "y": {"datum": 126}}}
 ]
},
{
 "width": 274, "height": 230,
 "layer": [
  {"data": {"name": "c"},
   "mark": {"type": "line", "strokeJoin": "round", "strokeWidth": 2},
   "encoding": {
    "x": {"field": "x", "type": "quantitative", "scale": {"domain": [0, 5000], "nice": false}, "axis": {"title": "Strain (%)", "values": [0,500,1000,1500,2000,2500,3000,3500,4000,4500,5000], "labelExpr": "datum.value % 1000 === 0 ? datum.label : ''", "titleX": 151}},
    "y": {"field": "y", "type": "quantitative", "scale": {"domain": [0, 222], "nice": false}, "axis": {"title": "Stress (kPa)", "values": [0,25,50,75,100,125,150,175,200], "labelExpr": "datum.value % 50 === 0 ? datum.label : ''", "titleX": -40, "titleY": 114}},
    "color": {"field": "s", "type": "nominal", "scale": {"domain": ["PAM/MXene₁₅/AFP₄₀/KCl₀","PAM/MXene₁₅/AFP₄₀/KCl₅","PAM/MXene₁₅/AFP₄₀/KCl₁₀","PAM/MXene₁₅/AFP₄₀/KCl₁₅","PAM/MXene₁₅/AFP₄₀/KCl₂₀","PAM/Mxene₁₅/AFP₄₀/KCl₂₅"], "range": ["#ff00ff","#b0b030","#0000ff","#ff0000","#ffff00","#8b1a8b"]}, "legend": {"title": null, "legendX": 2, "legendY": 1, "symbolSize": 324, "symbolStrokeWidth": 2.2, "labelOffset": 3, "rowPadding": 4.6, "clipHeight": 14}}
   }},
  {"data": {"values": [{}]},
   "mark": {"type": "text", "text": "c", "font": "Liberation Serif", "fontSize": 21, "fontWeight": "bold", "baseline": "middle", "align": "center", "color": "#111111"},
   "encoding": {"x": {"datum": 4425}, "y": {"datum": 207.5}}}
 ]
},
{
 "width": 272, "height": 230,
 "layer": [
  {"data": {"name": "d"},
   "mark": {"type": "line", "strokeJoin": "round", "strokeWidth": 2.3},
   "encoding": {
    "x": {"field": "x", "type": "quantitative", "scale": {"domain": [0, 320], "nice": false}, "axis": {"title": "Strain (%)", "values": [0,25,50,75,100,125,150,175,200,225,250,275,300], "labelExpr": "datum.value === 50 ? '500' : (datum.value % 50 === 0 ? datum.label : '')", "titleX": 154}},
    "y": {"field": "y", "type": "quantitative", "scale": {"domain": [0, 25], "nice": false}, "axis": {"title": "Stress (kPa)", "values": [0,2.5,5,7.5,10,12.5,15,17.5,20,22.5,25], "labelExpr": "datum.value % 5 === 0 ? datum.label : ''", "titleX": -33, "titleY": 116}},
    "color": {"field": "s", "type": "nominal", "scale": {"domain": ["1st","5th","20th","30th","50th"], "range": ["#ff0000","#33ee33","#0000cc","#ffff00","#ff00ff"]}, "legend": {"title": null, "legendX": 19, "legendY": 6, "symbolSize": 1225, "symbolStrokeWidth": 2.5, "labelOffset": 11, "rowPadding": 5.2, "clipHeight": 14}},
    "detail": {"field": "p", "type": "nominal"}
   }},
  {"data": {"values": [{}]},
   "mark": {"type": "text", "text": "d", "font": "Liberation Serif", "fontSize": 21, "fontWeight": "bold", "baseline": "middle", "align": "center", "color": "#111111"},
   "encoding": {"x": {"datum": 302}, "y": {"datum": 23.3}}}
 ]
}
]
}
